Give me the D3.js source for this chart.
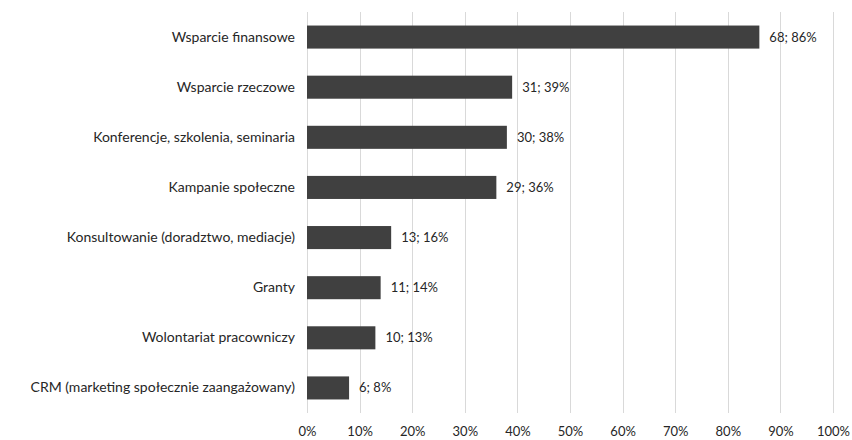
<!DOCTYPE html>
<html>
<head>
<meta charset="utf-8">
<script src="https://cdn.jsdelivr.net/npm/d3@7"></script>
<style>
  html, body { margin: 0; padding: 0; background: #fff; }
  svg text { font-family: Lato, "Open Sans", sans-serif; fill: #262626; }
</style>
</head>
<body>
<svg id="chart" width="852" height="440"></svg>
<script>
// Forms of cooperation: respondent counts and their share
const categories = [
  "Wsparcie finansowe",
  "Wsparcie rzeczowe",
  "Konferencje, szkolenia, seminaria",
  "Kampanie społeczne",
  "Konsultowanie (doradztwo, mediacje)",
  "Granty",
  "Wolontariat pracowniczy",
  "CRM (marketing społecznie zaangażowany)"
];
const counts = [68, 31, 30, 29, 13, 11, 10, 6];
const percents = [86, 39, 38, 36, 16, 14, 13, 8];
const tickValues = [0, 10, 20, 30, 40, 50, 60, 70, 80, 90, 100];

const fontStack = "Lato, 'Open Sans', sans-serif";
const svg = d3.select("#chart");
const margin = { top: 12, right: 19, bottom: 27, left: 307 };
const width = 852 - margin.left - margin.right;
const height = 440 - margin.top - margin.bottom;

const g = svg.append("g").attr("transform", `translate(${margin.left},${margin.top})`);

const x = d3.scaleLinear().domain([0, 100]).range([0, width]);
const y = d3.scaleBand().domain(categories).range([0, height]).paddingInner(0.54).paddingOuter(0.27);

// vertical gridlines
g.selectAll("line.grid")
  .data(tickValues)
  .join("line")
  .attr("class", "grid")
  .attr("x1", d => Math.round(x(d)) + 0.5)
  .attr("x2", d => Math.round(x(d)) + 0.5)
  .attr("y1", 0)
  .attr("y2", height)
  .attr("stroke", "#d9d9d9")
  .attr("stroke-width", 1);

// x axis tick labels
const xAxis = d3.axisBottom(x).tickValues(tickValues).tickFormat(d => d + "%").tickSize(0).tickPadding(14);
const xa = g.append("g").attr("transform", `translate(0,${height})`).call(xAxis);
xa.select(".domain").remove();
xa.selectAll("text").style("font-size", "13px").style("font-family", fontStack).attr("fill", "#404040");

// category labels
const yAxis = d3.axisLeft(y).tickSize(0).tickPadding(12);
const ya = g.append("g").call(yAxis);
ya.select(".domain").remove();
ya.selectAll("text").style("font-size", "14px").style("font-family", fontStack).attr("fill", "#1a1a1a");

// bars
g.selectAll("rect.bar")
  .data(categories)
  .join("rect")
  .attr("class", "bar")
  .attr("x", x(0))
  .attr("y", d => y(d))
  .attr("width", (d, i) => x(percents[i]) - x(0))
  .attr("height", y.bandwidth())
  .attr("fill", "#404040");

// value labels
g.selectAll("text.val")
  .data(categories)
  .join("text")
  .attr("class", "val")
  .attr("x", (d, i) => x(percents[i]) + 10)
  .attr("y", d => y(d) + y.bandwidth() / 2)
  .attr("dy", "0.35em")
  .style("font-size", "13px")
  .style("font-family", fontStack)
  .attr("fill", "#404040")
  .text((d, i) => `${counts[i]}; ${percents[i]}%`);
</script>
</body>
</html>
